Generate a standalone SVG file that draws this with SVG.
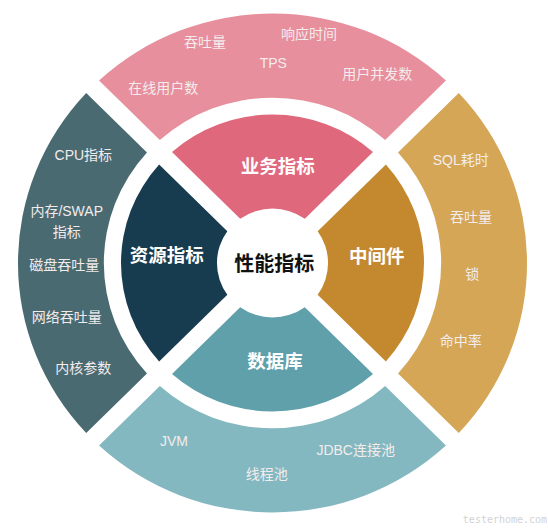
<svg xmlns="http://www.w3.org/2000/svg" width="548" height="532" viewBox="0 0 548 532">
<style>
.t{font-family:"Liberation Sans","Noto Sans CJK SC",sans-serif;font-size:14px;fill:#F3ECEC;text-anchor:middle}
.m{font-family:"Noto Sans CJK SC","Liberation Sans",sans-serif;font-size:18.5px;font-weight:bold;fill:#FFFFFF;text-anchor:middle}
.c{font-family:"Noto Sans CJK SC","Liberation Sans",sans-serif;font-size:20px;font-weight:bold;fill:#111111;text-anchor:middle}
.w{font-family:"DejaVu Sans Mono",monospace;font-size:10px;fill:#D2D2D2;text-anchor:middle}
</style>
<defs>
<path id="s-top-o" d="M100.79,78.56 A252,252 0 0 1 444.21,78.56 L384.05,138.72 A167,167 0 0 0 160.95,138.72 Z"/>
</defs>
<rect width="548" height="532" fill="#FFFFFF"/>
<g id="ring-business">
<path transform="translate(272.5,263) scale(1.01,0.99) translate(-272.5,-263)" d="M100.79,78.56 A252,252 0 0 1 444.21,78.56 L384.05,138.72 A167,167 0 0 0 160.95,138.72 Z" fill="#E78F9D"/>
<text class="t" x="205" y="47">吞吐量</text>
<text class="t" x="309" y="38.5">响应时间</text>
<text class="t" x="273.3" y="67.5">TPS</text>
<text class="t" x="163.3" y="92.5">在线用户数</text>
<text class="t" x="377.3" y="79">用户并发数</text>
</g>
<g id="ring-middleware">
<path transform="translate(272.5,263) scale(1.01,0.99) translate(-272.5,-263)" d="M456.94,91.29 A252,252 0 0 1 456.94,434.71 L396.78,374.55 A167,167 0 0 0 396.78,151.45 Z" fill="#D4A656"/>
<text class="t" x="460.7" y="165">SQL耗时</text>
<text class="t" x="471" y="222">吞吐量</text>
<text class="t" x="472.3" y="278.5">锁</text>
<text class="t" x="460.7" y="346">命中率</text>
</g>
<g id="ring-database">
<path transform="translate(272.5,263) scale(1.01,0.99) translate(-272.5,-263)" d="M444.21,447.44 A252,252 0 0 1 100.79,447.44 L160.95,387.28 A167,167 0 0 0 384.05,387.28 Z" fill="#84B8C0"/>
<text class="t" x="174" y="446">JVM</text>
<text class="t" x="266.7" y="478.5">线程池</text>
<text class="t" x="355.7" y="455">JDBC连接池</text>
</g>
<g id="ring-resource">
<path transform="translate(272.5,263) scale(1.01,0.99) translate(-272.5,-263)" d="M88.06,434.71 A252,252 0 0 1 88.06,91.29 L148.22,151.45 A167,167 0 0 0 148.22,374.55 Z" fill="#4A6A72"/>
<text class="t" x="83.3" y="160">CPU指标</text>
<text class="t" x="66.7" y="216">内存/SWAP</text>
<text class="t" x="66.7" y="237">指标</text>
<text class="t" x="64.3" y="270">磁盘吞吐量</text>
<text class="t" x="66.7" y="322">网络吞吐量</text>
<text class="t" x="83.3" y="372.5">内核参数</text>
</g>
<g id="node-business">
<path transform="translate(272.5,263) scale(1.01,0.99) translate(-272.5,-263)" d="M172.99,150.76 A150,150 0 0 1 372.01,150.76 L304.50,218.27 A55,55 0 0 0 240.50,218.27 Z" fill="#E0687C"/>
<text class="m" x="277.7" y="172.5">业务指标</text>
</g>
<g id="node-middleware">
<path transform="translate(272.5,263) scale(1.01,0.99) translate(-272.5,-263)" d="M384.74,163.49 A150,150 0 0 1 384.74,362.51 L317.23,295.00 A55,55 0 0 0 317.23,231.00 Z" fill="#C4892F"/>
<text class="m" x="376.7" y="262.5">中间件</text>
</g>
<g id="node-database">
<path transform="translate(272.5,263) scale(1.01,0.99) translate(-272.5,-263)" d="M372.01,375.24 A150,150 0 0 1 172.99,375.24 L240.50,307.73 A55,55 0 0 0 304.50,307.73 Z" fill="#5FA0AB"/>
<text class="m" x="275" y="368">数据库</text>
</g>
<g id="node-resource">
<path transform="translate(272.5,263) scale(1.01,0.99) translate(-272.5,-263)" d="M160.26,362.51 A150,150 0 0 1 160.26,163.49 L227.77,231.00 A55,55 0 0 0 227.77,295.00 Z" fill="#183C4F"/>
<text class="m" x="166.7" y="261.5">资源指标</text>
</g>
<g id="node-center">
<text class="c" x="274.3" y="270.5">性能指标</text>
</g>
<g id="connectors"/>
<text class="w" x="505" y="523">testerhome.com</text>
</svg>
